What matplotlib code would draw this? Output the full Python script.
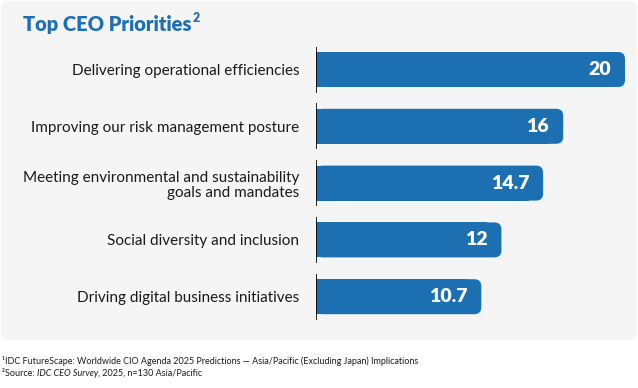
import matplotlib
matplotlib.use("Agg")
import matplotlib.pyplot as plt
from matplotlib.patches import FancyBboxPatch
import matplotlib.transforms as mtransforms

categories = [
    "Delivering operational efficiencies",
    "Improving our risk management posture",
    "Meeting environmental and sustainability\ngoals and mandates",
    "Social diversity and inclusion",
    "Driving digital business initiatives",
]
values = [20, 16, 14.7, 12, 10.7]
value_labels = ["20", "16", "14.7", "12", "10.7"]
title = "Top CEO Priorities"
footnote1 = "¹IDC FutureScape: Worldwide CIO Agenda 2025 Predictions — Asia/Pacific (Excluding Japan) Implications"

W, H = 638, 388
DPI = 100
BAR_COLOR = "#1c70b1"
TITLE_COLOR = "#1f6fb4"
PANEL = "#f5f5f5"
FONT = "Lato"

fig = plt.figure(figsize=(W / DPI, H / DPI), dpi=DPI)
fig.patch.set_facecolor("white")

# background panel (pixels from top: 0..340)
panel = FancyBboxPatch((1 / W, (H - 340) / H), 636 / W, 339 / H,
                       boxstyle="round,pad=0,rounding_size=0.012",
                       transform=fig.transFigure, facecolor=PANEL,
                       edgecolor="none", mutation_aspect=W / H, zorder=-5)
fig.patches.append(panel)

# axes placement in pixels
ax_left_px, ax_right_px = 316, 638
ax_top_px, ax_bot_px = 41.1, 325.1
ax = fig.add_axes([ax_left_px / W, (H - ax_bot_px) / H,
                   (ax_right_px - ax_left_px) / W, (ax_bot_px - ax_top_px) / H])
ax.set_zorder(2)
ax.set_facecolor("none")
px_per_unit = 15.45
xmax = (ax_right_px - ax_left_px) / px_per_unit
ax.set_xlim(0, xmax)
ax.set_ylim(len(values) - 0.5, -0.5)
px_per_y = (ax_bot_px - ax_top_px) / len(values)

bar_h = 35 / px_per_y
r_px = 7
for i, v in enumerate(values):
    rx = r_px / px_per_unit
    p = FancyBboxPatch((0, i - bar_h / 2), v, bar_h,
                       boxstyle=f"round,pad=0,rounding_size={rx}",
                       mutation_aspect=px_per_unit / px_per_y,
                       facecolor=BAR_COLOR, edgecolor="none", zorder=2)
    ax.add_patch(p)
    ax.barh(i, v - 2 * rx, height=bar_h, left=0, color=BAR_COLOR,
            edgecolor="none", zorder=2)
    ax.text(v, i, value_labels[i], color="white", fontsize=14,
            fontweight="heavy", family=FONT, ha="right", va="center",
            transform=ax.transData + mtransforms.ScaledTranslation(-14 / DPI, 0, fig.dpi_scale_trans),
            zorder=3)

half = 23 / px_per_y
ax.vlines([0] * len(values), [i - half for i in range(len(values))],
          [i + half for i in range(len(values))],
          color="black", linewidth=1.2, zorder=4)

ax.set_yticks(range(len(values)))
ax.set_yticklabels(categories, fontsize=11, family=FONT, color="#1a1a1a",
                   multialignment="right", linespacing=1.15)
ax.tick_params(axis="y", length=0, pad=12)
ax.set_xticks([])
for s in ax.spines.values():
    s.set_visible(False)

tt = fig.text(23 / W, 1 - 25 / H, title, fontsize=14.5, fontweight="heavy",
              family=FONT, color=TITLE_COLOR, ha="left", va="center")
fig.canvas.draw()
tx = tt.get_window_extent().x1 / W
fig.text(tx + 1 / W, 1 - 18 / H, "2", fontsize=9, fontweight="heavy",
         family=FONT, color=TITLE_COLOR, ha="left", va="center")

FN = 6.5
fig.text(2 / W, 1 - 361 / H, footnote1, fontsize=FN, family=FONT,
         color="#1a1a1a", ha="left", va="center")
t2 = fig.text(2 / W, 1 - 373 / H, "²Source: ", fontsize=FN, family=FONT,
              color="#1a1a1a", ha="left", va="center")
fig.canvas.draw()
x1 = t2.get_window_extent().x1 / W
t3 = fig.text(x1, 1 - 373 / H, "IDC CEO Survey", fontsize=FN, family=FONT,
              style="italic", color="#1a1a1a", ha="left", va="center")
fig.canvas.draw()
x2 = t3.get_window_extent().x1 / W
fig.text(x2, 1 - 373 / H, ", 2025, n=130 Asia/Pacific", fontsize=FN, family=FONT,
         color="#1a1a1a", ha="left", va="center")

fig.savefig("out.png", dpi=DPI, facecolor="white")
